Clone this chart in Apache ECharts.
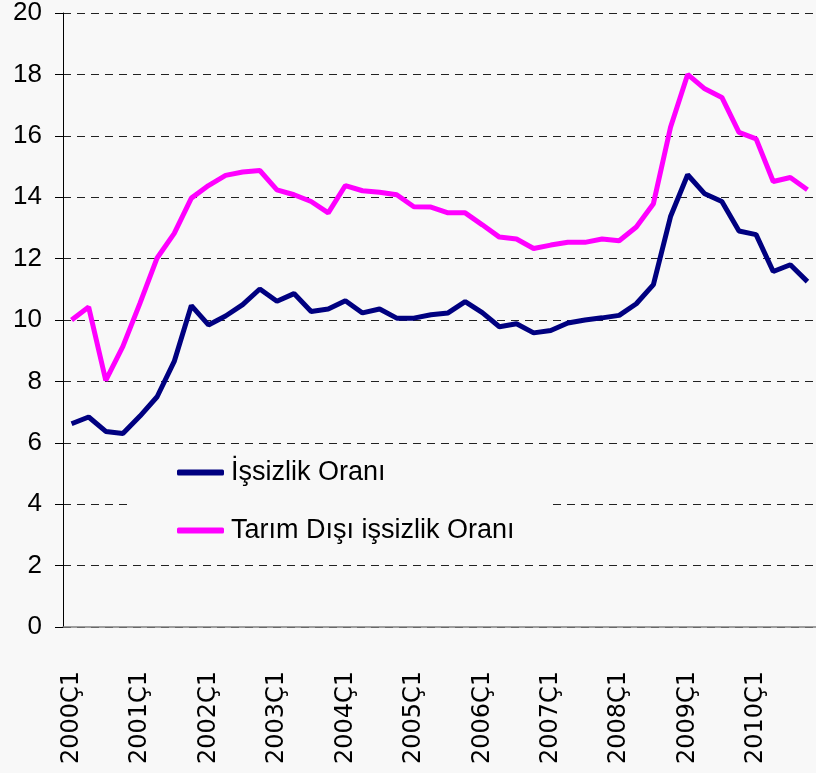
<!DOCTYPE html>
<html>
<head>
<meta charset="utf-8">
<script src="https://cdn.jsdelivr.net/npm/echarts@6/dist/echarts.min.js"></script>
<style>
html,body{margin:0;padding:0;background:#f8f8f8;}
#c{width:816px;height:773px;}
</style>
</head>
<body>
<div id="c"></div>
<script>
var years = ['2000','2001','2002','2003','2004','2005','2006','2007','2008','2009','2010'];
var categories = [];
years.forEach(function(y){ for (var q = 1; q <= 4; q++) categories.push(y + 'Ç' + q); });

var issizlikOrani = [
  6.62, 6.84, 6.37, 6.30,
  6.87, 7.50, 8.65, 10.47,
  9.84, 10.13, 10.50, 11.01,
  10.61, 10.86, 10.28, 10.36,
  10.63, 10.23, 10.36, 10.06,
  10.06, 10.17, 10.23, 10.60,
  10.24, 9.78, 9.88, 9.58,
  9.66, 9.90, 10.00, 10.07,
  10.15, 10.53, 11.15, 13.37,
  14.73, 14.11, 13.86, 12.90,
  12.78, 11.58, 11.80, 11.25
];
var tarimDisiIssizlikOrani = [
  10.00, 10.42, 8.03, 9.14,
  10.55, 12.02, 12.82, 13.97,
  14.38, 14.71, 14.82, 14.87,
  14.24, 14.08, 13.86, 13.49,
  14.38, 14.21, 14.16, 14.08,
  13.69, 13.68, 13.49, 13.49,
  13.10, 12.70, 12.64, 12.33,
  12.44, 12.53, 12.53, 12.64,
  12.58, 13.03, 13.79, 16.28,
  18.00, 17.53, 17.25, 16.11,
  15.90, 14.51, 14.64, 14.24
];
var seriesNames = ['İşsizlik Oranı', 'Tarım Dışı işsizlik Oranı'];

var chart = echarts.init(document.getElementById('c'));
var font = 'Liberation Sans, Arial, sans-serif';
chart.setOption({
  backgroundColor: '#f8f8f8',
  animation: false,
  textStyle: { fontFamily: font },
  grid: { left: 63, right: -5, top: 13, bottom: 146, containLabel: false },
  legend: {
    orient: 'vertical',
    left: 133,
    top: 446,
    padding: [13, 37, 12, 44],
    backgroundColor: '#f8f8f8',
    itemGap: 31,
    itemWidth: 47,
    itemHeight: 6,
    icon: 'roundRect',
    textStyle: { fontSize: 27, color: '#000', fontFamily: font, padding: [0, 0, 0, 2] },
    data: seriesNames
  },
  xAxis: {
    type: 'category',
    data: categories,
    boundaryGap: true,
    axisLine: { lineStyle: { color: '#808080', width: 1.5 } },
    axisTick: { interval: 3, length: 8, lineStyle: { color: '#808080' } },
    axisLabel: { interval: 3, rotate: 90, margin: 44, fontSize: 24, color: '#000', fontFamily: 'DejaVu Sans, sans-serif' },
    splitLine: { show: false }
  },
  yAxis: {
    type: 'value',
    min: 0, max: 20, interval: 2,
    axisLine: { show: true, lineStyle: { color: '#000', width: 1 } },
    axisTick: { show: true, length: 8, lineStyle: { color: '#000' } },
    axisLabel: { margin: 21, fontSize: 26, color: '#000', fontFamily: font },
    splitLine: { show: true, lineStyle: { color: '#222', type: [8, 6], width: 1 } }
  },
  series: [
    {
      name: seriesNames[0], type: 'line', data: issizlikOrani,
      symbol: 'none', color: '#000080',
      lineStyle: { color: '#000080', width: 5 }
    },
    {
      name: seriesNames[1], type: 'line', data: tarimDisiIssizlikOrani,
      symbol: 'none', color: '#ff00ff',
      lineStyle: { color: '#ff00ff', width: 5 }
    }
  ]
});
</script>
</body>
</html>
